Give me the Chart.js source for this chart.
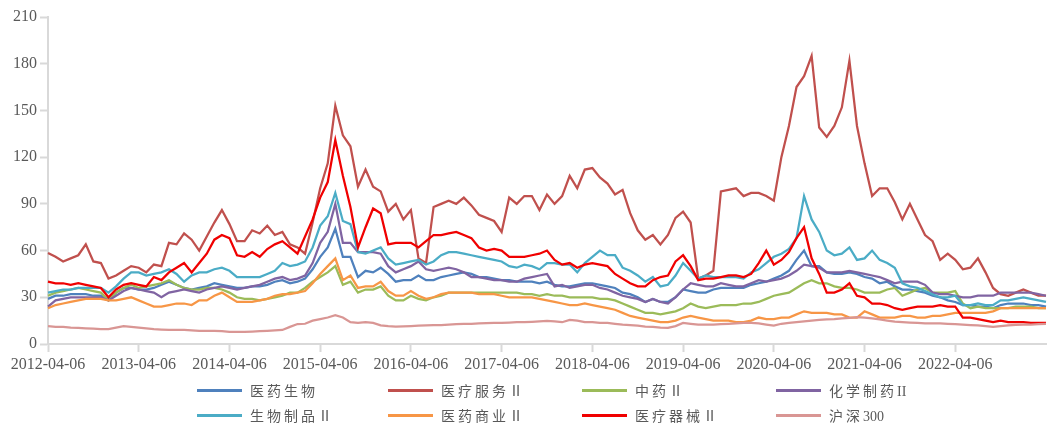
<!DOCTYPE html>
<html lang="zh-CN">
<head>
<meta charset="utf-8">
<title>医药生物子行业估值走势</title>
<script src="https://cdn.jsdelivr.net/npm/chart.js@4.4.1/dist/chart.umd.min.js"></script>
<style>
  html, body { margin: 0; padding: 0; background: #fff; }
  .wrap { position: relative; width: 1049px; height: 425px; }
  #legend {
    position: absolute; left: 0; top: 0; width: 1049px; height: 425px;
    pointer-events: none;
    font-family: 'Liberation Serif', 'Noto Sans CJK SC', serif;
    font-size: 14px; color: #595959;
  }
  .item { position: absolute; height: 24px; display: flex; align-items: center; white-space: nowrap; }
  .swatch { width: 45px; height: 3px; margin-right: 8px; }
  .cjk { letter-spacing: 3px; }
</style>
</head>
<body>
<div class="wrap">
  <canvas id="chart" width="1049" height="425"></canvas>
  <div id="legend"></div>
</div>
<script>
// monthly points, 2012-04 .. 2023-04
const categories = []
for (let i = 0; i <= 132; i++) {
  const month = 3 + i
  const yy = 2012 + Math.floor(month / 12)
  const mm = String(month % 12 + 1).padStart(2, '0')
  categories.push(`${yy}-${mm}-06`)
}

const tickLabels = [
  '2012-04-06', '2013-04-06', '2014-04-06', '2015-04-06', '2016-04-06', '2017-04-06',
  '2018-04-06', '2019-04-06', '2020-04-06', '2021-04-06', '2022-04-06'
]

const yiyaoShengwu = [
  29, 31, 31, 32, 32, 32, 31, 31, 29, 33, 36, 36,
  35, 35, 36, 38, 40, 38, 36, 35, 36, 37, 39, 38,
  37, 36, 36, 37, 37, 38, 40, 41, 39, 40, 42, 48,
  56, 62, 74, 56, 56, 43, 47, 46, 49, 45, 40, 41,
  41, 44, 41, 41, 43, 44, 45, 46, 45, 43, 43, 42,
  41, 41, 40, 40, 40, 39, 40, 38, 37, 37, 38, 39,
  39, 38, 37, 36, 33, 32, 30, 27, 29, 27, 27, 30,
  35, 34, 33, 33, 35, 36, 36, 36, 36, 38, 39, 40,
  42, 44, 47, 54, 60, 50, 50, 46, 45, 45, 46, 45,
  43, 42, 39, 40, 37, 35, 35, 34, 33, 31, 30, 28,
  27, 25, 25, 24, 24, 23, 25, 26, 26, 26, 25, 25,
  24
]

const yiliaoFuwu = [
  58.5, 56, 53, 55, 57, 64, 53, 52, 42, 44, 47, 50,
  49, 46, 51, 50, 65, 64, 71, 67, 60, 69, 78, 86,
  77, 66, 66, 73, 71, 76, 70, 72, 64, 62, 58, 78,
  100, 116, 153, 134, 127, 101, 112, 101, 98, 85, 90, 80,
  86, 55, 52, 88, 90, 92, 90, 94, 89, 83, 81, 79,
  72, 94, 90, 95, 95, 86, 96, 90, 95, 108, 100, 112,
  113, 107, 103, 96, 99, 84, 73, 67, 70, 64, 70, 81,
  85, 78, 42, 44, 47, 98, 99, 100, 95, 97, 97, 95,
  92, 120, 140, 165, 172, 185, 139, 133, 140, 152, 182, 140,
  116, 95, 100, 100, 91, 80, 90, 80, 70, 66, 54, 58,
  54, 48, 49, 55, 46, 36, 32, 31, 33, 35, 33, 31,
  31
]

const zhongyao = [
  31, 33, 34, 35, 36, 35, 34, 33, 28, 33, 36, 38,
  36, 37, 38, 39, 41, 38, 36, 35, 35, 36, 36, 35,
  33, 30, 29, 29, 28, 29, 30, 31, 33, 33, 36, 40,
  43, 46, 50, 38, 40, 33, 35, 35, 37, 31, 28, 28,
  31, 29, 28, 30, 31, 33, 33, 33, 33, 33, 33, 33,
  33, 33, 33, 32, 32, 31, 32, 31, 31, 30, 30, 30,
  30, 29, 29, 28, 26, 24, 22, 20, 20, 19, 20, 21,
  23, 26, 24, 23, 24, 25, 25, 25, 26, 26, 27, 29,
  31, 32, 33, 36, 39, 41, 39, 39, 37, 36, 36, 35,
  33, 33, 33, 35, 36, 31, 33, 35, 36, 33, 33, 33,
  34, 26, 23, 24, 23, 23, 23, 23, 24, 24, 24, 23,
  23
]

const huaxueZhiyao = [
  24, 28, 29, 30, 30, 30, 30, 30, 28, 31, 34, 36,
  35, 34, 33, 30, 33, 34, 35, 34, 33, 35, 36, 37,
  36, 35, 36, 37, 38, 40, 42, 43, 41, 42, 44, 52,
  65, 72, 90, 65, 65, 59, 59, 59, 58, 50, 46, 48,
  50, 53, 48, 47, 48, 49, 48, 46, 43, 43, 42, 41,
  41, 40, 40, 42, 43, 44, 45, 37, 38, 36, 37, 38,
  38, 36, 35, 33, 31, 30, 29, 27, 29, 27, 26, 30,
  35, 39, 38, 37, 37, 39, 38, 37, 37, 39, 41, 40,
  41, 42, 44, 47, 51, 50, 49, 46, 46, 46, 47, 46,
  45, 44, 43, 41, 39, 40, 40, 40, 38, 33, 32, 32,
  31, 30, 30, 31, 31, 31, 33, 33, 33, 33, 33, 32,
  31
]

const shengwuZhipin = [
  33, 34, 35, 35, 36, 36, 36, 36, 33, 37, 42, 46,
  46, 44, 45, 46, 48, 45, 40, 44, 46, 46, 48, 49,
  47, 43, 43, 43, 43, 45, 47, 52, 50, 51, 53, 62,
  76, 82, 97, 79, 77, 59, 58, 60, 62, 55, 51, 52,
  53, 54, 51, 53, 57, 59, 59, 58, 57, 56, 55, 54,
  53, 50, 49, 51, 50, 48, 52, 52, 51, 51, 46, 52,
  56, 60, 57, 57, 49, 47, 44, 40, 43, 37, 38, 44,
  52, 47, 42, 44, 43, 43, 43, 43, 42, 46, 48, 52,
  56, 58, 61, 68, 95, 80, 72, 60, 57, 58, 62, 54,
  55, 60, 54, 52, 49, 39, 37, 36, 34, 32, 30, 30,
  31, 25, 25, 26, 25, 25, 28, 28, 29, 30, 29, 28,
  27
]

const yiyaoShangye = [
  23, 25, 26, 27, 28, 29, 29, 29, 28, 28, 29, 30,
  28, 26, 24, 24, 25, 26, 26, 25, 28, 28, 31, 33,
  30, 27, 27, 27, 28, 29, 31, 32, 32, 33, 34, 39,
  45, 50, 55, 41, 44, 36, 37, 37, 40, 34, 31, 31,
  34, 31, 29, 30, 32, 33, 33, 33, 33, 32, 32, 32,
  31, 30, 30, 30, 30, 29, 28, 27, 26, 25, 25, 26,
  25, 24, 23, 22, 20, 18, 17, 16, 15, 14, 14, 15,
  17, 18, 17, 16, 15, 15, 15, 14, 14, 15, 17, 16,
  16, 17, 17, 19, 21, 20, 20, 20, 19, 19, 17, 17,
  21, 19, 17, 17, 17, 18, 18, 17, 17, 18, 18, 19,
  20, 20, 20, 20, 20, 21, 23, 23, 23, 23, 23, 23,
  23
]

const yiliaoQixie = [
  40, 39, 39, 38, 39, 38, 37, 36, 30, 35, 38, 39,
  38, 37, 43, 41, 46, 49, 52, 46, 52, 58, 67, 70,
  68, 57, 56, 59, 56, 61, 64, 66, 62, 58, 69, 80,
  94, 104, 131, 108, 88, 62, 75, 87, 84, 64, 65, 65,
  65, 62, 66, 70, 70, 71, 72, 70, 68, 62, 60, 61,
  60, 56, 56, 56, 57, 58, 60, 54, 51, 52, 49, 51,
  52, 51, 50, 45, 42, 39, 37, 37, 41, 43, 44, 53,
  57, 50, 41, 42, 42, 43, 44, 44, 43, 45, 52, 60,
  51, 54, 59, 68, 75, 55, 45, 33, 33, 35, 39, 31,
  30, 26, 26, 25, 23, 22, 23, 24, 24, 24, 25, 24,
  24, 17, 17, 16, 15, 14, 15, 14, 14, 14, 13.5, 13.5,
  13.5
]

const hs300 = [
  11.5, 11, 11, 10.5, 10.3, 10, 9.8, 9.6, 9.5, 10.5, 11.5, 11,
  10.5, 10, 9.5, 9.2, 9, 9, 9, 8.8, 8.5, 8.4, 8.4, 8.2,
  7.8, 7.8, 7.8, 8, 8.3, 8.5, 8.8, 9, 11, 12.8, 13, 15,
  16, 17, 18.5, 17, 14, 13.5, 14, 13.5, 12, 11.5, 11.2, 11.3,
  11.5, 11.8, 12, 12.2, 12.2, 12.5, 12.8, 13, 13, 13.2, 13.4, 13.5,
  13.5, 13.7, 14, 14, 14.2, 14.5, 14.8, 14.5, 14, 15.5, 15, 14,
  14, 13.5, 13.5, 13, 12.5, 12.2, 11.8, 11.2, 11, 10.5, 10.3, 11.5,
  13.5, 13, 12.5, 12.5, 12.5, 12.8, 13, 13.2, 13.5, 13.5, 13.2, 12.5,
  11.8, 13, 13.5, 14, 14.5, 15, 15.5, 15.8, 16, 16.5, 16.7, 17.2,
  17, 16.5, 15.8, 15, 14.3, 14, 13.8, 13.5, 13.3, 13.3, 13.2, 13,
  12.8, 12.5, 12.2, 12, 11.5, 11, 11.5, 12, 12.3, 12.5, 12.5, 12.8,
  13
]

const seriesNames = ['医药生物', '医疗服务Ⅱ', '中药Ⅱ', '化学制药II', '生物制品Ⅱ', '医药商业Ⅱ', '医疗器械Ⅱ', '沪深300']
const seriesColors = ['#4F81BD', '#C0504D', '#9BBB59', '#8064A2', '#4BACC6', '#F79646', '#F00000', '#D99694']
const seriesData = [yiyaoShengwu, yiliaoFuwu, zhongyao, huaxueZhiyao, shengwuZhipin, yiyaoShangye, yiliaoQixie, hs300]

const axisColor = '#D9D9D9'
const textColor = '#595959'

Chart.defaults.font.family = "'Liberation Serif', 'Noto Sans CJK SC', serif"

// later series drawn on top, like the office chart
const datasets = seriesNames.map((name, i) => ({
  label: name,
  data: seriesData[i],
  borderColor: seriesColors[i],
  backgroundColor: seriesColors[i],
  borderWidth: 2.25,
  pointRadius: 0,
  tension: 0,
  order: seriesNames.length - i
}))

const chart = new Chart(document.getElementById('chart').getContext('2d'), {
  type: 'line',
  data: { labels: categories, datasets },
  options: {
    responsive: false,
    animation: false,
    layout: { padding: { top: 17, right: 0, bottom: 48, left: 0 } },
    plugins: {
      legend: { display: false },
      tooltip: { enabled: false }
    },
    scales: {
      x: {
        type: 'category',
        grid: {
          drawOnChartArea: false,
          tickLength: 8,
          tickWidth: 2,
          tickColor: ctx => tickLabels.includes(categories[ctx.index]) ? axisColor : 'rgba(0,0,0,0)'
        },
        border: { color: axisColor, width: 2 },
        ticks: {
          autoSkip: false,
          maxRotation: 0,
          minRotation: 0,
          padding: 3,
          color: textColor,
          font: { size: 16 },
          callback: (value, index) => tickLabels.includes(categories[index]) ? categories[index] : ''
        },
        afterFit: scale => { scale.height = 33 }
      },
      y: {
        min: 0,
        max: 210,
        grid: { drawOnChartArea: false, tickLength: 8, tickWidth: 2, tickColor: axisColor },
        border: { color: axisColor, width: 2 },
        ticks: { stepSize: 30, padding: 3, color: textColor, font: { size: 16 } },
        afterFit: scale => { scale.width = 48 }
      }
    }
  }
})

// legend laid out in fixed columns below the plot; only the Chinese characters are spaced out
const legendCols = [197, 388, 582, 776]
const legendRows = [390, 415]
const legendEl = document.getElementById('legend')
chart.data.datasets.forEach((ds, i) => {
  const item = document.createElement('div')
  item.className = 'item'
  item.style.left = legendCols[i % 4] + 'px'
  item.style.top = (legendRows[Math.floor(i / 4)] - 12) + 'px'
  const swatch = document.createElement('span')
  swatch.className = 'swatch'
  swatch.style.background = ds.borderColor
  item.appendChild(swatch)
  const text = document.createElement('span')
  ds.label.match(/[\u4e00-\u9fff]+|[^\u4e00-\u9fff]+/g).forEach(part => {
    const span = document.createElement('span')
    if (/[\u4e00-\u9fff]/.test(part)) span.className = 'cjk'
    span.textContent = part
    text.appendChild(span)
  })
  item.appendChild(text)
  legendEl.appendChild(item)
})
</script>
</body>
</html>
